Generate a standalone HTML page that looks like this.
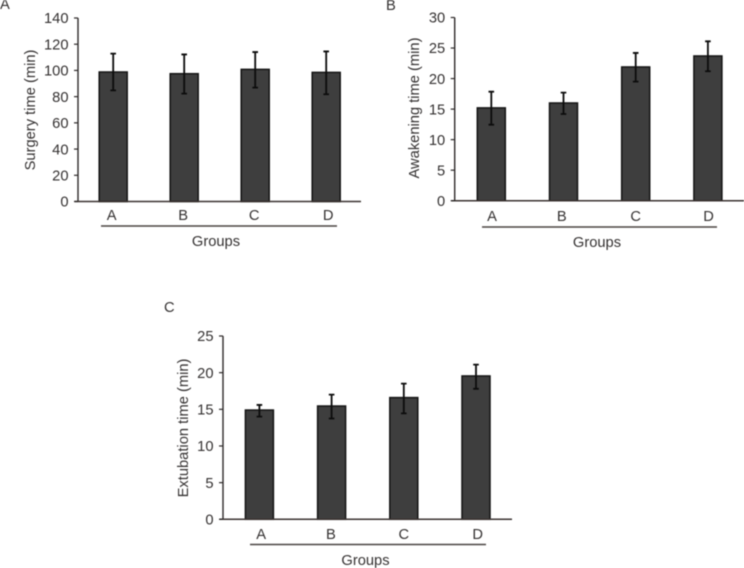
<!DOCTYPE html>
<html>
<head>
<meta charset="utf-8">
<title>Surgery, awakening and extubation time by group</title>
<style>
html,body{margin:0;padding:0;background:#fff;}
svg{display:block;filter:blur(0.4px);}
text{font-family:"Liberation Sans",Arial,sans-serif;font-size:14.7px;fill:#353232;}
</style>
</head>
<body>
<svg id="figure" xmlns="http://www.w3.org/2000/svg" width="744" height="568" viewBox="0 0 744 568"></svg>
<script>
const categories = ['A', 'B', 'C', 'D'];
const xAxisTitle = 'Groups';

const surgeryTicks = [0, 20, 40, 60, 80, 100, 120, 140];
const surgeryMeans = [98.8, 97.5, 100.8, 98.5];
const surgeryHigh = [112.8, 112.2, 114, 114.5];
const surgeryLow = [84.8, 82.3, 86.9, 81.8];

const awakeningTicks = [0, 5, 10, 15, 20, 25, 30];
const awakeningMeans = [15.2, 16, 21.9, 23.7];
const awakeningHigh = [17.85, 17.7, 24.2, 26.1];
const awakeningLow = [12.45, 14.2, 19.5, 21.2];

const extubationTicks = [0, 5, 10, 15, 20, 25];
const extubationMeans = [14.9, 15.45, 16.6, 19.55];
const extubationHigh = [15.6, 17, 18.5, 21.1];
const extubationLow = [14, 13.75, 14.45, 17.8];

const NS = 'http://www.w3.org/2000/svg';
const root = document.getElementById('figure');

function make(parent, tag, attrs, content) {
  const el = document.createElementNS(NS, tag);
  for (const k in attrs) el.setAttribute(k, attrs[k]);
  if (content !== undefined) el.textContent = content;
  parent.appendChild(el);
  return el;
}

function drawPanel(cfg) {
  const g = make(root, 'g', {});
  
  

  const maxTick = cfg.ticks[cfg.ticks.length - 1];
  const yScale = v => cfg.y0 - (v / maxTick) * (cfg.y0 - cfg.yTop);
  const xScale = i => cfg.xFirst + cfg.step * i;

  const letter = make(g, 'text', {x: cfg.letterX, y: cfg.letterY}, cfg.letter);
  
  

  categories.forEach((c, i) => {
    const cx = xScale(i);
    const top = yScale(cfg.means[i]);
    const bar = make(g, 'rect', {
      x: cx - 14, y: top, width: 28, height: cfg.y0 - top,
      fill: '#3e3e3e', stroke: '#141414', 'stroke-width': 1.5
    });
    
    

    const hi = yScale(cfg.high[i]);
    const lo = yScale(cfg.low[i]);
    const err = make(g, 'path', {
      d: 'M' + (cx - 2.8) + ' ' + hi + 'H' + (cx + 2.8) +
         'M' + cx + ' ' + hi + 'V' + lo +
         'M' + (cx - 2.8) + ' ' + lo + 'H' + (cx + 2.8),
      fill: 'none', stroke: '#0c0c0c', 'stroke-width': 1.8
    });
    
    

    const lab = make(g, 'text', {x: cx + cfg.catShift[i], y: cfg.catY, 'text-anchor': 'middle'}, c);
    
    
  });

  const yAxis = make(g, 'line', {x1: cfg.axisX, x2: cfg.axisX, y1: cfg.yTop, y2: cfg.y0, stroke: '#2e2a2a', 'stroke-width': 1.4});
  
  

  const xAxis = make(g, 'line', {x1: cfg.axisX - 3.5, x2: cfg.axisEnd, y1: cfg.y0, y2: cfg.y0, stroke: '#3a3230', 'stroke-width': 1.5});
  
  

  cfg.ticks.forEach(t => {
    const y = yScale(t);
    const tick = make(g, 'line', {x1: cfg.axisX - 4, x2: cfg.axisX, y1: y, y2: y, stroke: '#2e2a2a', 'stroke-width': 1.2});
    
    

    const lab = make(g, 'text', {x: cfg.axisX - 9.5, y: y + 5.2, 'text-anchor': 'end'}, String(t));
    
    
  });

  const yTitle = make(g, 'text', {
    x: 0, y: 0, 'text-anchor': 'middle',
    transform: 'translate(' + cfg.titleX + ' ' + cfg.titleY + ') rotate(-90)'
  }, cfg.yTitle);
  
  

  const rule = make(g, 'line', {x1: cfg.ruleX1, x2: cfg.ruleX2, y1: cfg.ruleY, y2: cfg.ruleY, stroke: '#4a4442', 'stroke-width': 1.4});
  
  

  const xTitle = make(g, 'text', {x: cfg.groupX, y: cfg.groupY, 'text-anchor': 'middle'}, xAxisTitle);
  
  
}

drawPanel({
  key: 'surgery-time', letter: 'A', letterX: 0, letterY: 9,
  yTitle: 'Surgery time (min)', titleX: 35, titleY: 110,
  ticks: surgeryTicks, means: surgeryMeans, high: surgeryHigh, low: surgeryLow,
  axisX: 78, axisEnd: 361, y0: 201.5, yTop: 18,
  xFirst: 113.2, step: 71, catShift: [-1.5, -1, -1, 2],
  catY: 220, ruleX1: 101, ruleX2: 337, ruleY: 226, groupX: 216, groupY: 246
});

drawPanel({
  key: 'awakening-time', letter: 'B', letterX: 386, letterY: 10,
  yTitle: 'Awakening time (min)', titleX: 419, titleY: 108,
  ticks: awakeningTicks, means: awakeningMeans, high: awakeningHigh, low: awakeningLow,
  axisX: 454.7, axisEnd: 744, y0: 200.7, yTop: 17.5,
  xFirst: 491.3, step: 72.2, catShift: [0.7, -1.7, 0, 0.7],
  catY: 221, ruleX1: 482, ruleX2: 717, ruleY: 227, groupX: 597, groupY: 247
});

drawPanel({
  key: 'extubation-time', letter: 'C', letterX: 164, letterY: 312,
  yTitle: 'Extubation time (min)', titleX: 188, titleY: 428,
  ticks: extubationTicks, means: extubationMeans, high: extubationHigh, low: extubationLow,
  axisX: 223, axisEnd: 512, y0: 519.3, yTop: 336,
  xFirst: 259.4, step: 72.2, catShift: [1.7, -0.7, 0, 1.7],
  catY: 539, ruleX1: 250, ruleX2: 486, ruleY: 544.5, groupX: 365.5, groupY: 565
});
</script>
</body>
</html>
